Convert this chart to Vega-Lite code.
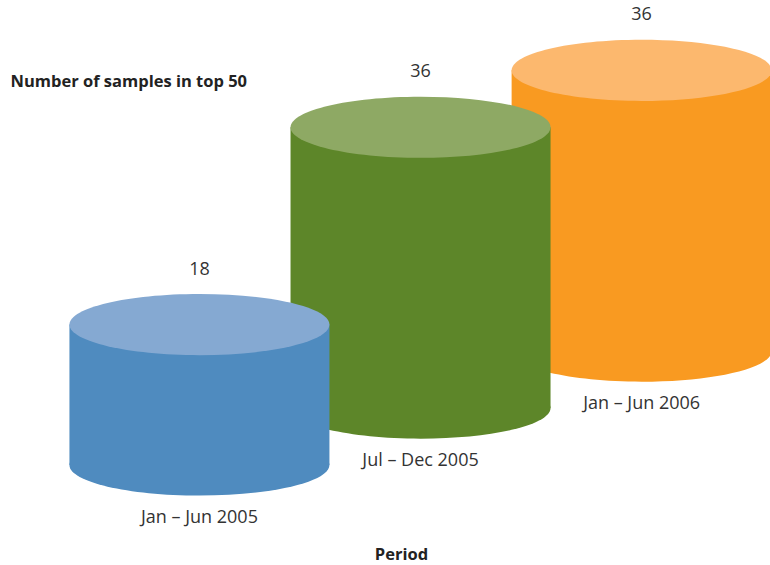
{
  "$schema": "https://vega.github.io/schema/vega-lite/v6.json",
  "width": 770,
  "height": 565,
  "autosize": "none",
  "padding": 0,
  "background": "white",
  "config": {"view": {"stroke": null}, "font": "Open Sans"},
  "data": {
    "values": [
      {"period": "Jan – Jun 2006", "slot": 2, "value": 36},
      {"period": "Jul – Dec 2005", "slot": 1, "value": 36},
      {"period": "Jan – Jun 2005", "slot": 0, "value": 18}
    ]
  },
  "transform": [
    {"calculate": "datum.slot * 7.3", "as": "base"},
    {"calculate": "datum.base + datum.value", "as": "top"}
  ],
  "encoding": {
    "x": {
      "field": "slot",
      "type": "quantitative",
      "scale": {"domain": [-0.87946, 2.55804], "nice": false, "zero": false},
      "axis": {
        "title": "Period",
        "labels": false,
        "ticks": false,
        "domain": false,
        "grid": false,
        "titleX": 401,
        "titleY": -6,
        "titleAlign": "center",
        "titleBaseline": "alphabetic",
        "titleFontSize": 16.5,
        "titleFontWeight": "bold",
        "titleColor": "#222222"
      }
    },
    "y": {
      "field": "base",
      "type": "quantitative",
      "scale": {"domain": [-12.821, 59.615], "nice": false, "zero": false},
      "axis": {
        "title": "Number of samples in top 50",
        "labels": false,
        "ticks": false,
        "domain": false,
        "grid": false,
        "titleAngle": 0,
        "titleX": 10,
        "titleY": 86,
        "titleAlign": "left",
        "titleBaseline": "alphabetic",
        "titleFontSize": 16.5,
        "titleFontWeight": "bold",
        "titleColor": "#222222"
      }
    }
  },
  "layer": [
    {
      "mark": {
        "type": "point",
        "shape": "M-1,0C-1,-0.13,-0.5523,-0.2354,0,-0.2354C0.5523,-0.2354,1,-0.13,1,0C1,0.13,0.5523,0.2354,0,0.2354C-0.5523,0.2354,-1,0.13,-1,0Z",
        "size": 67600,
        "filled": true,
        "opacity": 1,
        "strokeWidth": 0
      },
      "encoding": {
        "color": {
          "field": "period",
          "type": "nominal",
          "scale": {
            "domain": ["Jan – Jun 2005", "Jul – Dec 2005", "Jan – Jun 2006"],
            "range": ["#4f8bbf", "#5d8629", "#f99a21"]
          },
          "legend": null
        }
      }
    },
    {
      "mark": {"type": "bar", "size": 260},
      "encoding": {
        "y": {"field": "top", "type": "quantitative"},
        "y2": {"field": "base"},
        "color": {"field": "period", "type": "nominal", "legend": null}
      }
    },
    {
      "mark": {
        "type": "point",
        "shape": "M-1,0C-1,-0.13,-0.5523,-0.2354,0,-0.2354C0.5523,-0.2354,1,-0.13,1,0C1,0.13,0.5523,0.2354,0,0.2354C-0.5523,0.2354,-1,0.13,-1,0Z",
        "size": 67600,
        "filled": true,
        "opacity": 1,
        "strokeWidth": 0
      },
      "encoding": {
        "y": {"field": "top", "type": "quantitative"},
        "fill": {
          "field": "period",
          "type": "nominal",
          "scale": {
            "domain": ["Jan – Jun 2005", "Jul – Dec 2005", "Jan – Jun 2006"],
            "range": ["#85a9d2", "#8ea964", "#fcb86e"]
          },
          "legend": null
        }
      }
    },
    {
      "mark": {"type": "text", "dy": -55, "baseline": "middle", "fontSize": 18, "color": "#333333"},
      "encoding": {
        "y": {"field": "top", "type": "quantitative"},
        "text": {"field": "value", "type": "quantitative"}
      }
    },
    {
      "mark": {"type": "text", "dy": 53, "baseline": "middle", "fontSize": 18, "color": "#333333"},
      "encoding": {
        "text": {"field": "period", "type": "nominal"}
      }
    }
  ]
}
